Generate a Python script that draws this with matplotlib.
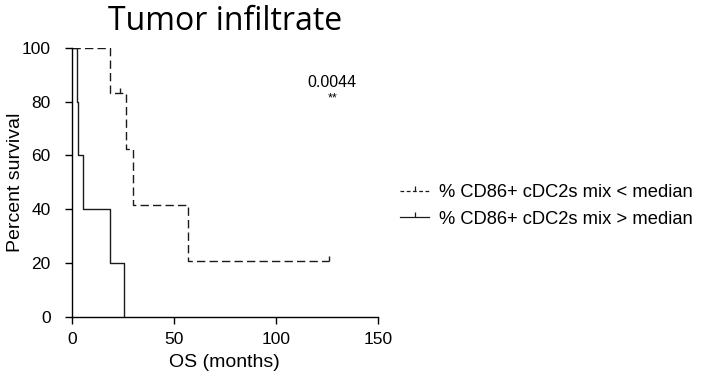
import matplotlib
matplotlib.use("Agg")
import matplotlib.pyplot as plt
from matplotlib.path import Path
from matplotlib.lines import Line2D

# survival curves (step points, months / percent)
low_t = [0, 18.8, 26.8, 30.0, 57.2, 126.3]
low_s = [100, 83.3, 62.5, 41.7, 20.8, 20.8]
low_cens_t = [23.7, 126.3]
low_cens_s = [83.3, 20.8]

high_t = [0, 2.45, 3.3, 5.7, 18.8, 25.8]
high_s = [100, 80, 60, 40, 20, 0]

labels = ["% CD86+ cDC2s mix < median", "% CD86+ cDC2s mix > median"]
x_ticks = [0, 50, 100, 150]
y_ticks = [0, 20, 40, 60, 80, 100]
p_value = "0.0044"
stars = "**"

plt.rcParams['font.family'] = ['Liberation Sans', 'DejaVu Sans']

# upward-only censor tick
cens_marker = Path([(0, 0), (0, 1)], [Path.MOVETO, Path.LINETO])

fig = plt.figure(figsize=(7.01, 3.82), dpi=100)
ax = fig.add_axes([71.7 / 701, 65 / 382, 306 / 701, 269.3 / 382])

col = '#1a1a1a'
ax.step(low_t, low_s, where='post', color=col, lw=1.0, linestyle=(0, (6, 3)))
ax.plot(low_cens_t, low_cens_s, linestyle='none', marker=cens_marker,
        markersize=7, markeredgewidth=1.0, color=col)
ax.step(high_t, high_s, where='post', color=col, lw=1.0)

ax.set_xlim(0, 150)
ax.set_ylim(0, 100)
ax.set_xticks(x_ticks)
ax.set_yticks(y_ticks)
for s in ['top', 'right']:
    ax.spines[s].set_visible(False)
for s in ['left', 'bottom']:
    ax.spines[s].set_linewidth(1.0)
ax.tick_params(axis='both', direction='out', length=5, width=1.0, labelsize=12.5)
ax.tick_params(axis='y', pad=10)
ax.tick_params(axis='x', pad=6)

ax.set_ylabel("Percent survival", fontsize=14)
ax.yaxis.set_label_coords(-48 / 306, 0.5)
ax.set_xlabel("OS (months)", fontsize=14)
ax.xaxis.set_label_coords(0.5, -37 / 269.3)

ax.text(127.8, 87, p_value, ha='center', va='center', fontsize=11.5)
ax.text(127.8, 81, stars, ha='center', va='center', fontsize=9)

fig.text(225 / 701, 1 - 22 / 382, "Tumor infiltrate", ha='center', va='center',
         fontsize=23, family=['Open Sans', 'DejaVu Sans'])

handles = [
    Line2D([], [], color=col, lw=0.9, linestyle=(0, (3, 2)), marker=cens_marker,
           markersize=7, markeredgewidth=0.9),
    Line2D([], [], color=col, lw=0.9, marker=cens_marker,
           markersize=7, markeredgewidth=0.9),
]
fig.legend(handles, labels, loc='center left', bbox_to_anchor=(400 / 701, 1 - 206 / 382),
           frameon=False, fontsize=13.2, handlelength=1.6, handletextpad=0.55,
           labelspacing=0.5, borderpad=0, borderaxespad=0, numpoints=1)

fig.savefig("out.png", dpi=100)
